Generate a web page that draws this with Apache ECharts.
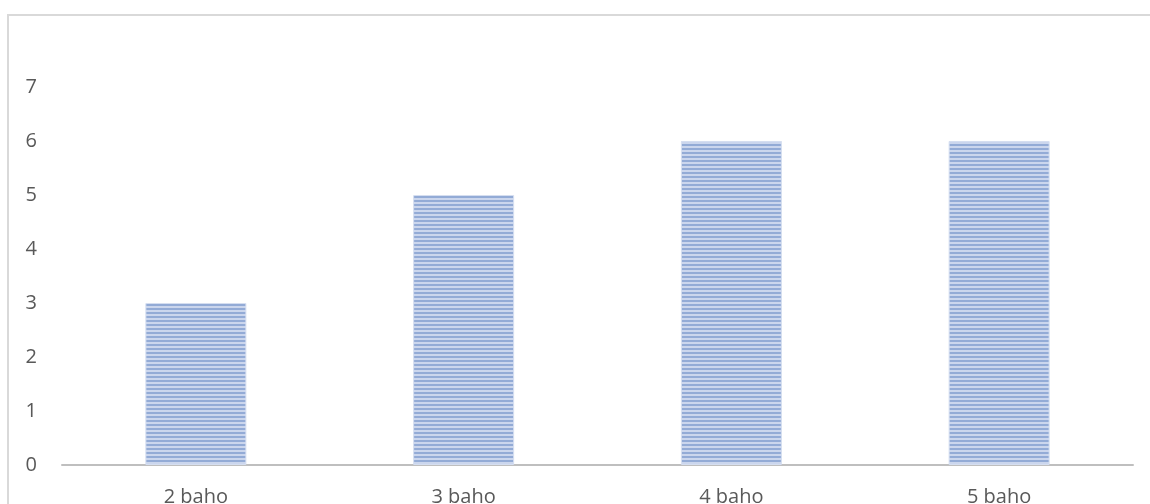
<!DOCTYPE html>
<html>
<head>
<meta charset="utf-8">
<script src="https://cdn.jsdelivr.net/npm/echarts@6/dist/echarts.min.js"></script>
<style>
  html, body { margin: 0; padding: 0; background: #fff; }
  #frame { position: absolute; left: 7px; top: 14px; width: 1160px; height: 510px;
           border: 2px solid #d9d9d9; box-sizing: border-box; }
  #chart { position: absolute; left: 0; top: 0; width: 1150px; height: 504px; }
</style>
</head>
<body>
<div id="frame"></div>
<div id="chart"></div>
<script>
// chart values
const categories = ["2 baho", "3 baho", "4 baho", "5 baho"];
const counts = [3, 5, 6, 6];

// horizontal stripe fill like the original bars
function stripePattern() {
  const c = document.createElement("canvas");
  c.width = 4;
  c.height = 4;
  const ctx = c.getContext("2d");
  ctx.fillStyle = "#cbd6ed";
  ctx.fillRect(0, 0, 4, 4);
  ctx.fillStyle = "#93abd6";
  ctx.fillRect(0, 0, 4, 2);
  return c;
}

const chart = echarts.init(document.getElementById("chart"));
chart.setOption({
  animation: false,
  grid: { left: 62, right: 17, top: 87, bottom: 39, outerBoundsMode: "none" },
  xAxis: {
    type: "category",
    data: categories,
    axisLine: { lineStyle: { color: "#bfbfbf", width: 2 } },
    axisTick: { show: false },
    axisLabel: { color: "#595959", fontSize: 20, fontFamily: "Open Sans", margin: 22 }
  },
  yAxis: {
    type: "value",
    min: 0,
    max: 7,
    interval: 1,
    splitLine: { show: false },
    axisLine: { show: false },
    axisLabel: { color: "#595959", fontSize: 20, fontFamily: "Open Sans", margin: 25 }
  },
  series: [
    {
      type: "bar",
      data: counts,
      barWidth: 101,
      itemStyle: {
        color: { image: stripePattern(), repeat: "repeat" },
        borderColor: "#d5def0",
        borderWidth: 1
      }
    }
  ]
});
</script>
</body>
</html>
